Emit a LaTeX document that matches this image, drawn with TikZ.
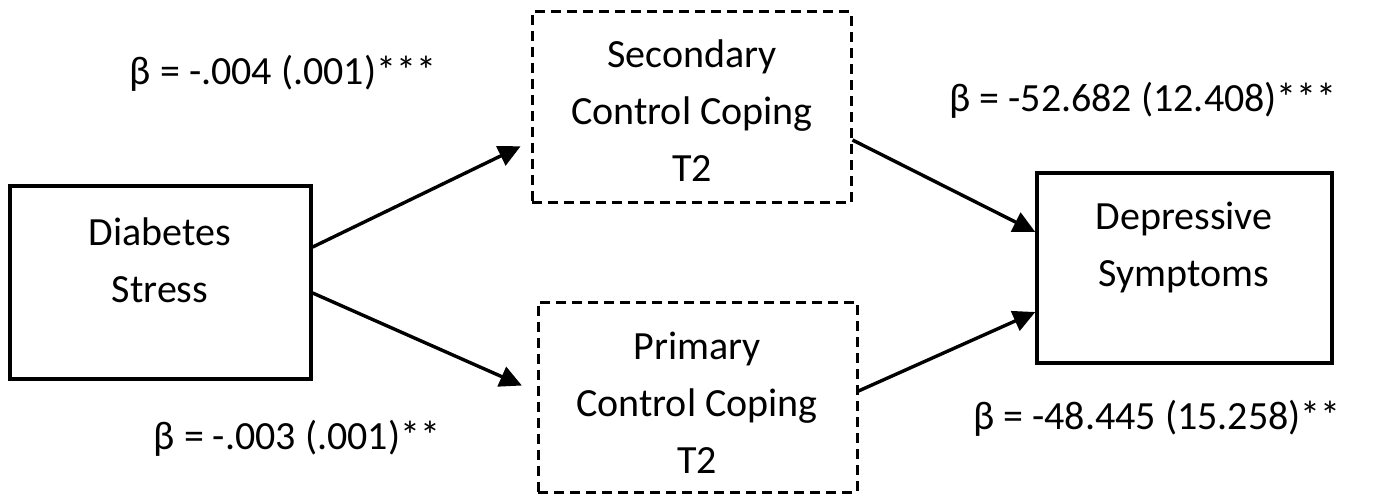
\documentclass[tikz,border=0pt]{standalone}
\usepackage{fontspec}
\setmainfont{Carlito}
\usetikzlibrary{arrows.meta}
\begin{document}
\begin{tikzpicture}[x=1pt,y=-1pt,
  every node/.style={font=\fontsize{40}{57}\selectfont},
  box/.style={draw, line width=3.4pt, inner sep=0pt},
  dbox/.style={draw, line width=3pt, dash pattern=on 10pt off 6pt, inner sep=0pt},
  txt/.style={align=center, inner sep=0pt},
  lbl/.style={inner sep=0pt},
  link/.style={line width=3.4pt, -{Triangle[length=22pt,width=21pt]}}]
\useasboundingbox (0,0) rectangle (1373,497);

% boxes
\node[box, minimum width=301pt, minimum height=193pt] (ds) at (160.5,282.5) {};
\node[dbox, minimum width=319pt, minimum height=191pt] (sc) at (691.5,107.5) {};
\node[dbox, minimum width=319pt, minimum height=190pt] (pc) at (697.5,397) {};
\node[box, minimum width=295pt, minimum height=190pt] (dp) at (1184.5,268) {};

% box texts
\node[txt] (dsT) at (160,260) {Diabetes\\Stress};
\node[txt] (scT) at (692,111) {Secondary\\Control Coping\\T2};
\node[txt] (pcT) at (697,403) {Primary\\Control Coping\\T2};
\node[txt] (dpT) at (1184,247) {Depressive\\Symptoms};

% coefficients
\node[lbl] (b1) at (283,73) {β = -.004 (.001)***};
\node[lbl] (b2) at (297,438) {β = -.003 (.001)**};
\node[lbl] (b3) at (1143,100) {β = -52.682 (12.408)***};
\node[lbl] (b4) at (1157,418) {β = -48.445 (15.258)**};

% paths
\draw[link, shorten >=11pt] ([yshift=35.5pt]ds.east) -- ([yshift=-34pt]sc.west);
\draw[link, shorten >=16pt] ([yshift=-10.5pt]ds.east) -- ([yshift=5pt]pc.west);
\draw[link] ([yshift=-32.5pt]sc.east) -- ([yshift=36pt]dp.west);
\draw[link] ([yshift=6pt]pc.east) -- ([yshift=-44pt]dp.west);
\end{tikzpicture}
\end{document}
